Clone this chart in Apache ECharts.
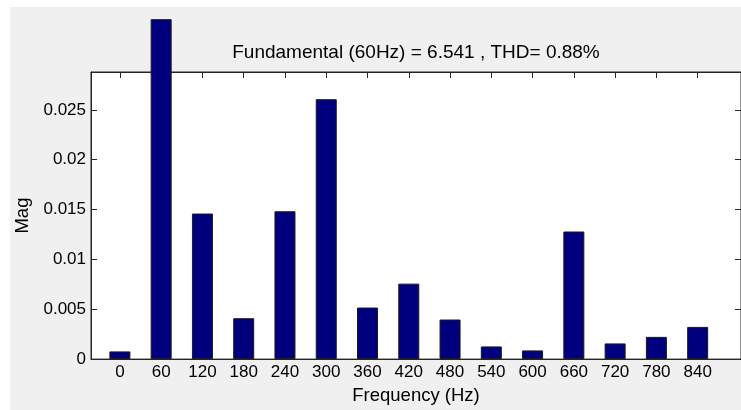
<!DOCTYPE html>
<html>
<head>
<meta charset="utf-8">
<script src="https://cdn.jsdelivr.net/npm/echarts@6/dist/echarts.min.js"></script>
<style>
html,body{margin:0;padding:0;background:#fff;overflow:hidden;}
#bg{position:absolute;left:10px;top:7px;width:731px;height:403px;background:#f0f0f0;}
#chart{position:absolute;left:0;top:0;width:741px;height:410px;}
</style>
</head>
<body>
<div id="bg"></div>
<div id="chart"></div>
<script>
// Data
const frequencies = [0, 60, 120, 180, 240, 300, 360, 420, 480, 540, 600, 660, 720, 780, 840];
const magnitudes = [0.00077, 0.0341, 0.0146, 0.0041, 0.01483, 0.02607, 0.00517, 0.00757, 0.00397, 0.00127, 0.00087, 0.0128, 0.00157, 0.00223, 0.00323];
const yTicks = [0, 0.005, 0.01, 0.015, 0.02, 0.025];
const yTickLabels = ['0', '0.005', '0.01', '0.015', '0.02', '0.025'];
const titleText = 'Fundamental (60Hz) = 6.541 , THD= 0.88%';
const xName = 'Frequency (Hz)';
const yName = 'Mag';

const font = 'Arial, "Liberation Sans", sans-serif';
const axisColor = '#262626';
const chart = echarts.init(document.getElementById('chart'), null, {renderer: 'canvas'});
const pairs = frequencies.map((f, i) => [f, magnitudes[i]]);

const tickCommon = {show: true, inside: true, length: 6, lineStyle: {color: axisColor, width: 1}};
chart.setOption({
  animation: false,
  grid: {left: 91, top: 72, right: -2, bottom: 50, show: true, backgroundColor: '#ffffff', borderColor: axisColor, borderWidth: 1, containLabel: false},
  graphic: [{
    type: 'text', x: 416, y: 53,
    style: {text: titleText, font: '19px ' + font, fill: '#000', textAlign: 'center', textVerticalAlign: 'middle'},
    z: 10
  }],
  xAxis: [{
    type: 'value', min: -42, max: 903, position: 'bottom',
    splitLine: {show: false},
    axisLine: {show: true, onZero: false, lineStyle: {color: axisColor}},
    axisTick: Object.assign({customValues: frequencies}, tickCommon),
    axisLabel: {customValues: frequencies, color: '#000', fontSize: 17, fontFamily: font, margin: 5},
    name: xName, nameLocation: 'middle', nameGap: 24,
    nameTextStyle: {color: '#000', fontSize: 18.5, fontFamily: font}
  }, {
    type: 'value', min: -42, max: 903, position: 'top',
    splitLine: {show: false},
    axisLine: {show: true, onZero: false, lineStyle: {color: axisColor}},
    axisTick: Object.assign({customValues: frequencies}, tickCommon),
    axisLabel: {show: false}
  }],
  yAxis: [{
    type: 'value', min: 0, max: 0.0288, position: 'left',
    splitLine: {show: false},
    axisLine: {show: true, onZero: false, lineStyle: {color: axisColor}},
    axisTick: Object.assign({customValues: yTicks}, tickCommon),
    axisLabel: {customValues: yTicks, color: '#000', fontSize: 17, fontFamily: font, margin: 5,
      formatter: v => { const i = yTicks.findIndex(t => Math.abs(t - v) < 1e-9); return i >= 0 ? yTickLabels[i] : ''; }},
    name: yName, nameLocation: 'middle', nameGap: 52, nameRotate: 90,
    nameTextStyle: {color: '#000', fontSize: 18.5, fontFamily: font}
  }, {
    type: 'value', min: 0, max: 0.0288, position: 'right',
    splitLine: {show: false},
    axisLine: {show: true, onZero: false, lineStyle: {color: axisColor}},
    axisTick: Object.assign({customValues: yTicks}, tickCommon),
    axisLabel: {show: false}
  }],
  series: [{
    type: 'bar', xAxisIndex: 0, yAxisIndex: 0,
    data: pairs, barWidth: 21, clip: false,
    itemStyle: {color: '#00007f', borderColor: '#1a1a1a', borderWidth: 1},
    z: 5
  }]
});
</script>
</body>
</html>
